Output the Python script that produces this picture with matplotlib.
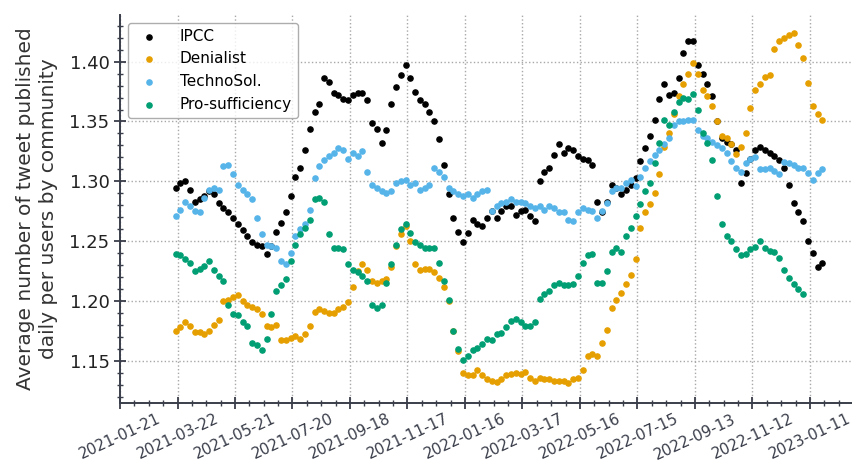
import numpy as np
import pandas as pd
import matplotlib
matplotlib.use('Agg')
import matplotlib.pyplot as plt
import matplotlib.dates as mdates
from matplotlib.ticker import MultipleLocator, FixedLocator, FormatStrFormatter

# series sampled every 5 days starting 2021-03-20
start = '2021-03-20'

ipcc = [1.294, 1.299, 1.300, 1.293, 1.283, 1.285, 1.288, 1.292, 1.289, 1.282,
        1.278, 1.274, 1.269, 1.264, 1.259, 1.254, 1.249, 1.247, 1.246, 1.239,
        1.246, 1.258, 1.265, 1.274, 1.288, 1.304, 1.311, 1.326, 1.344, 1.358,
        1.365, 1.386, 1.383, 1.374, 1.372, 1.369, 1.368, 1.372, 1.374, 1.374,
        1.368, 1.349, 1.344, 1.332, 1.343, 1.365, 1.379, 1.389, 1.397, 1.386,
        1.375, 1.368, 1.365, 1.358, 1.350, 1.335, 1.314, 1.289, 1.269, 1.258,
        1.249, 1.257, 1.268, 1.264, 1.263, 1.269, 1.275, 1.269, 1.275, 1.279,
        1.279, 1.272, 1.275, 1.276, 1.271, 1.267, 1.300, 1.308, 1.311, 1.322,
        1.331, 1.324, 1.328, 1.326, 1.321, 1.319, 1.318, 1.314, 1.283, 1.274,
        1.283, 1.297, 1.294, 1.289, 1.293, 1.297, 1.303, 1.317, 1.328, 1.338,
        1.351, 1.369, 1.381, 1.372, 1.374, 1.386, 1.407, 1.417, 1.417, 1.397,
        1.390, 1.381, 1.371, 1.350, 1.336, 1.333, 1.331, 1.326, 1.299, 1.307,
        1.319, 1.326, 1.329, 1.326, 1.324, 1.321, 1.318, 1.311, 1.297, 1.282,
        1.274, 1.267, 1.250, 1.240, 1.228, 1.232]

denialist = [1.175, 1.178, 1.182, 1.179, 1.174, 1.174, 1.172, 1.175, 1.180, 1.184,
             1.200, 1.201, 1.203, 1.205, 1.200, 1.197, 1.195, 1.193, 1.189, 1.179,
             1.178, 1.180, 1.167, 1.167, 1.169, 1.171, 1.168, 1.172, 1.179, 1.191,
             1.193, 1.192, 1.190, 1.190, 1.193, 1.195, 1.199, 1.212, 1.225, 1.231,
             1.226, 1.217, 1.215, 1.217, 1.218, 1.228, 1.246, 1.256, 1.263, 1.250,
             1.231, 1.226, 1.227, 1.227, 1.224, 1.219, 1.212, 1.200, 1.175, 1.158,
             1.140, 1.138, 1.138, 1.142, 1.138, 1.135, 1.133, 1.132, 1.135, 1.138,
             1.139, 1.140, 1.139, 1.141, 1.136, 1.133, 1.136, 1.135, 1.135, 1.133,
             1.133, 1.133, 1.131, 1.135, 1.136, 1.142, 1.154, 1.156, 1.154, 1.165,
             1.176, 1.194, 1.201, 1.207, 1.214, 1.222, 1.235, 1.261, 1.274, 1.281,
             1.290, 1.306, 1.329, 1.340, 1.356, 1.371, 1.381, 1.390, 1.399, 1.390,
             1.376, 1.371, 1.363, 1.350, 1.338, 1.336, 1.331, 1.323, 1.329, 1.340,
             1.361, 1.376, 1.381, 1.387, 1.389, 1.411, 1.417, 1.420, 1.422, 1.424,
             1.414, 1.403, 1.382, 1.363, 1.356, 1.351]

technosol = [1.271, 1.276, 1.283, 1.279, 1.275, 1.274, 1.286, 1.293, 1.294, 1.293,
             1.313, 1.314, 1.306, 1.297, 1.293, 1.289, 1.285, 1.269, 1.256, 1.247,
             1.246, 1.244, 1.233, 1.231, 1.240, 1.254, 1.260, 1.264, 1.276, 1.303,
             1.313, 1.318, 1.321, 1.324, 1.328, 1.326, 1.319, 1.324, 1.321, 1.325,
             1.308, 1.297, 1.294, 1.292, 1.290, 1.292, 1.299, 1.300, 1.301, 1.297,
             1.299, 1.293, 1.294, 1.297, 1.311, 1.308, 1.304, 1.294, 1.292, 1.289,
             1.288, 1.289, 1.286, 1.289, 1.292, 1.293, 1.275, 1.279, 1.282, 1.283,
             1.285, 1.283, 1.283, 1.282, 1.279, 1.278, 1.279, 1.276, 1.279, 1.278,
             1.274, 1.274, 1.268, 1.267, 1.274, 1.278, 1.276, 1.275, 1.269, 1.275,
             1.282, 1.292, 1.294, 1.294, 1.299, 1.301, 1.296, 1.304, 1.311, 1.317,
             1.322, 1.326, 1.331, 1.336, 1.347, 1.350, 1.350, 1.351, 1.351, 1.343,
             1.338, 1.336, 1.333, 1.330, 1.328, 1.324, 1.317, 1.311, 1.308, 1.315,
             1.319, 1.320, 1.310, 1.310, 1.311, 1.309, 1.306, 1.316, 1.315, 1.314,
             1.311, 1.311, 1.307, 1.301, 1.307, 1.310]

prosufficiency = [1.239, 1.238, 1.235, 1.232, 1.225, 1.227, 1.229, 1.233, 1.226, 1.221,
                  1.217, 1.197, 1.189, 1.188, 1.182, 1.179, 1.165, 1.163, 1.159, 1.168,
                  1.189, 1.208, 1.213, 1.218, 1.233, 1.247, 1.256, 1.261, 1.268, 1.285,
                  1.286, 1.283, 1.256, 1.244, 1.244, 1.243, 1.231, 1.226, 1.224, 1.221,
                  1.217, 1.197, 1.194, 1.197, 1.215, 1.231, 1.247, 1.260, 1.264, 1.257,
                  1.249, 1.247, 1.244, 1.244, 1.244, 1.232, 1.217, 1.201, 1.175, 1.160,
                  1.151, 1.154, 1.159, 1.161, 1.164, 1.168, 1.167, 1.172, 1.173, 1.178,
                  1.183, 1.185, 1.182, 1.179, 1.179, 1.182, 1.202, 1.206, 1.208, 1.213,
                  1.215, 1.213, 1.213, 1.214, 1.221, 1.232, 1.238, 1.239, 1.215, 1.215,
                  1.225, 1.241, 1.244, 1.241, 1.254, 1.261, 1.271, 1.281, 1.292, 1.299,
                  1.315, 1.332, 1.351, 1.347, 1.358, 1.366, 1.370, 1.369, 1.373, 1.360,
                  1.340, 1.332, 1.318, 1.288, 1.264, 1.254, 1.250, 1.243, 1.238, 1.239,
                  1.243, 1.245, 1.250, 1.244, 1.242, 1.241, 1.236, 1.226, 1.219, 1.214,
                  1.210, 1.206]

labels = ['IPCC', 'Denialist', 'TechnoSol.', 'Pro-sufficiency']
colors = ['#000000', '#E69F00', '#56B4E9', '#009E73']
series = [ipcc, denialist, technosol, prosufficiency]

ink = '#3a3e4a'

fig = plt.figure(figsize=(8.53, 4.66), dpi=100)
ax = fig.add_axes([0.1407, 0.1352, 0.8593, 0.8326])

for vals, lab, col in zip(series, labels, colors):
    d = pd.date_range(start, periods=len(vals), freq='5D')
    ax.scatter(d, vals, s=14, color=col, label=lab, zorder=3)

x0 = pd.Timestamp('2021-01-21')
ax.set_xlim(x0, x0 + pd.Timedelta(days=765))
ax.set_ylim(1.1147, 1.439)

major = pd.date_range('2021-01-21', periods=13, freq='60D')
minor = pd.date_range('2021-01-21', periods=52, freq='15D')
ax.xaxis.set_major_locator(FixedLocator(mdates.date2num(major)))
ax.xaxis.set_minor_locator(FixedLocator(mdates.date2num(minor)))
ax.xaxis.set_major_formatter(mdates.DateFormatter('%Y-%m-%d'))
ax.yaxis.set_major_locator(MultipleLocator(0.05))
ax.yaxis.set_minor_locator(MultipleLocator(0.01))
ax.yaxis.set_major_formatter(FormatStrFormatter('%.2f'))

ax.grid(True, which='major', linestyle=':', color='#a8a8a8', linewidth=1)
ax.set_axisbelow(True)

for side in ['top', 'right']:
    ax.spines[side].set_visible(False)
for side in ['left', 'bottom']:
    ax.spines[side].set_color(ink)
    ax.spines[side].set_linewidth(1.4)

ax.tick_params(which='major', direction='inout', length=8, width=1.3, color=ink)
ax.tick_params(which='minor', direction='inout', length=5, width=1.0, color=ink)
ax.tick_params(axis='y', labelsize=13, labelcolor='#222222')
ax.tick_params(axis='x', labelsize=11, labelcolor=ink, pad=2)
plt.setp(ax.get_xticklabels(), rotation=25, ha='center')

ax.set_ylabel('Average number of tweet published\ndaily per users by community',
              fontsize=14.5, color='#333333', labelpad=8, linespacing=1.3)

leg = ax.legend(loc='upper left', fontsize=11, frameon=True, handletextpad=1.0)
leg.get_frame().set_edgecolor('#999999')

fig.savefig('out.png', dpi=100)
